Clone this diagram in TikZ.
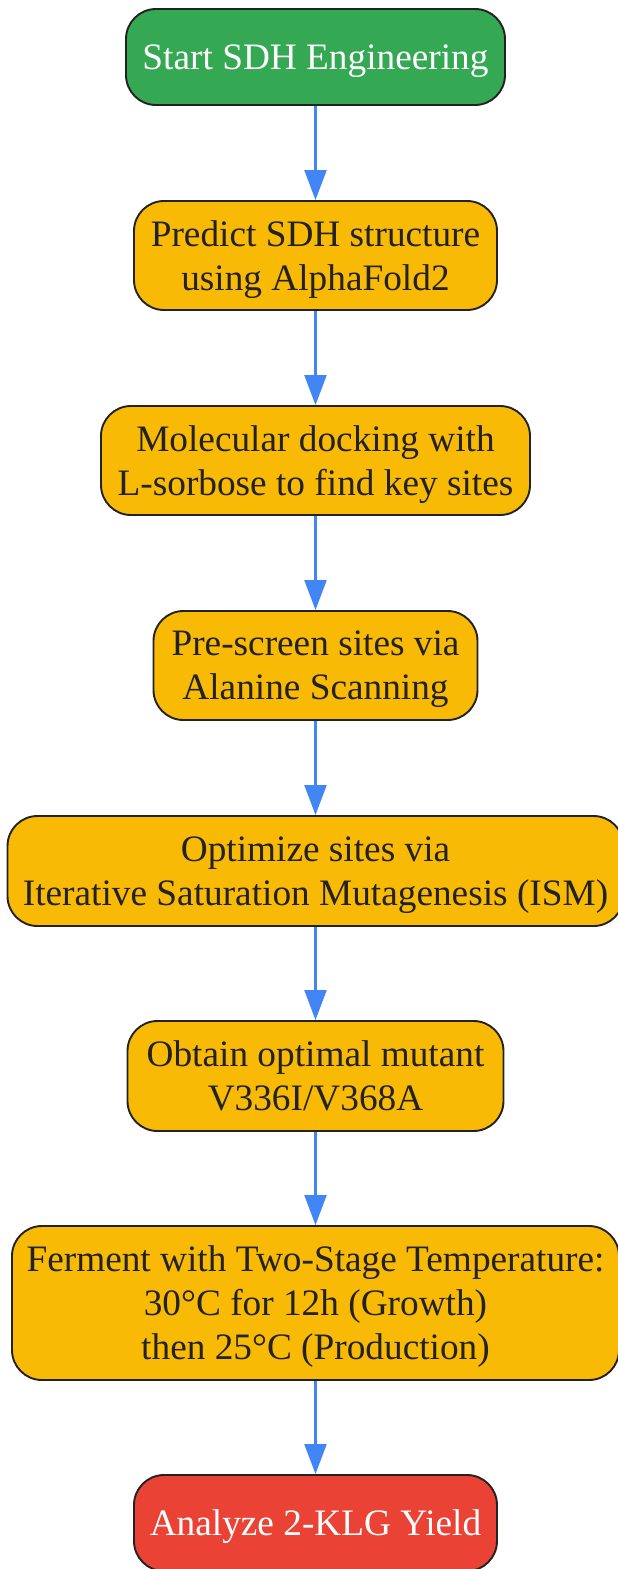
\documentclass[tikz,border=0pt]{standalone}
\usepackage{fontspec}
\setmainfont{Liberation Serif}
\usepackage{xcolor}
\usepackage{tikz}
\usetikzlibrary{arrows.meta}

\definecolor{startgreen}{HTML}{34A853}
\definecolor{stepyellow}{HTML}{F9BA05}
\definecolor{endred}{HTML}{EA4335}
\definecolor{edgeblue}{HTML}{4285F4}
\definecolor{inkgray}{HTML}{222222}

\tikzset{
  flowbox/.style={draw=inkgray, line width=1.9pt, rounded corners=30pt,
    align=center, inner sep=0pt, text depth=-4pt, text=inkgray, fill=stepyellow,
    font=\fontsize{37.3}{44}\selectfont},
  startbox/.style={flowbox, fill=startgreen, text=white},
  endbox/.style={flowbox, fill=endred, text=white},
  flowarrow/.style={draw=edgeblue, line width=2.2pt,
    -{Triangle[length=30pt, width=22pt]}}
}

\begin{document}
\begin{tikzpicture}[x=1pt,y=1pt,yscale=-1]
    \useasboundingbox (0,0) rectangle (618,1569);
    \clip (0,0) rectangle (618,1569);
    % Nodes
    \node[startbox, minimum width=379pt, minimum height=96pt] (start) at (315.5,57) {Start SDH Engineering};
    \node[flowbox, minimum width=363pt, minimum height=109pt] (predict) at (315.5,255.5) {Predict SDH structure\\using AlphaFold2};
    \node[flowbox, minimum width=429pt, minimum height=109pt] (docking) at (315.5,460.5) {Molecular docking with\\L-sorbose to find key sites};
    \node[flowbox, minimum width=324pt, minimum height=109pt] (prescreen) at (315.5,665.5) {Pre-screen sites via\\Alanine Scanning};
    \node[flowbox, minimum width=616pt, minimum height=110pt] (optimize) at (315.5,871) {Optimize sites via\\Iterative Saturation Mutagenesis (ISM)};
    \node[flowbox, minimum width=376pt, minimum height=110pt] (mutant) at (315.5,1076) {Obtain optimal mutant\\V336I/V368A};
    \node[flowbox, minimum width=607pt, minimum height=154pt] (ferment) at (315.5,1303) {Ferment with Two-Stage Temperature:\\30°C for 12h (Growth)\\then 25°C (Production)};
    \node[endbox, minimum width=363pt, minimum height=96pt] (analyze) at (315.5,1523) {Analyze 2-KLG Yield};
    % Connectors
    \draw[flowarrow] (start) -- (predict);
    \draw[flowarrow] (predict) -- (docking);
    \draw[flowarrow] (docking) -- (prescreen);
    \draw[flowarrow] (prescreen) -- (optimize);
    \draw[flowarrow] (optimize) -- (mutant);
    \draw[flowarrow] (mutant) -- (ferment);
    \draw[flowarrow] (ferment) -- (analyze);
\end{tikzpicture}
\end{document}
